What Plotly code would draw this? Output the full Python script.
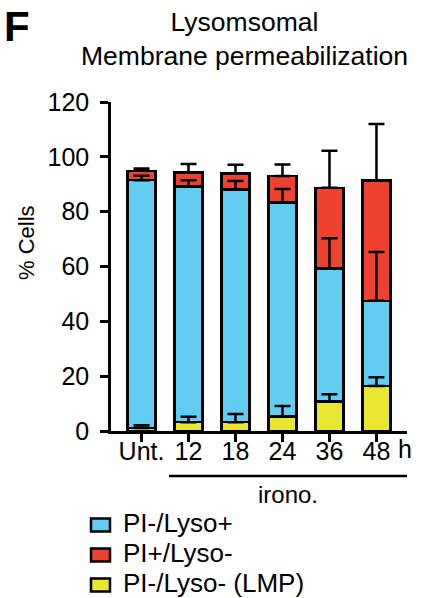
import plotly.graph_objects as go
import numpy as np

# ---- data ----
categories = ["Unt.", "12", "18", "24", "36", "48"]
lmp_vals = [1.1, 3.2, 3.2, 5.2, 10.7, 16.4]          # PI-/Lyso- (LMP)  yellow, bottom
lmp_err = [1.0, 2.0, 3.0, 3.9, 2.7, 3.2]
lyso_pos_vals = [90.4, 85.9, 84.9, 78.1, 48.6, 31.1]  # PI-/Lyso+  blue, middle
lyso_pos_err = [1.6, 2.4, 3.1, 5.0, 11.0, 17.8]
pi_pos_vals = [3.4, 5.2, 5.9, 9.7, 29.4, 43.8]        # PI+/Lyso-  red, top
pi_pos_err = [0.8, 3.1, 3.1, 4.2, 13.5, 20.7]
sig_labels = ["", "n.s.", "n.s.", "n.s.", "**", "**"]
y_ticks = [0, 20, 40, 60, 80, 100, 120]
legend_names = ["PI-/Lyso+", "PI+/Lyso-", "PI-/Lyso- (LMP)"]

# ---- style ----
FONT = "Liberation Sans, Arial, sans-serif"
BLUE = "#62CDF3"
RED = "#EE4130"
YELLOW = "#E9E631"
W, H = 435, 598
L, R, T, B = 111, 407, 102, 431


def px_x(p):
    return (p - L) / (R - L)


def px_y(p):
    return (B - p) / (B - T)


fig = go.Figure()

series = [
    ("PI-/Lyso- (LMP)", lmp_vals, lmp_err, YELLOW),
    ("PI-/Lyso+", lyso_pos_vals, lyso_pos_err, BLUE),
    ("PI+/Lyso-", pi_pos_vals, pi_pos_err, RED),
]
colors = {name: col for name, _, _, col in series}

for name, vals, err, col in series:
    fig.add_trace(go.Bar(
        x=categories, y=vals, name=name, showlegend=False,
        marker=dict(color=col, line=dict(color="black", width=2.5)),
        width=0.6,
    ))

# error bars drawn on top of the stack (upward only)
cum = np.zeros(len(categories))
for name, vals, err, col in series:
    cum = cum + np.array(vals)
    fig.add_trace(go.Scatter(
        x=categories, y=cum.tolist(), mode="markers",
        marker=dict(size=1, color="rgba(0,0,0,0)"),
        error_y=dict(type="data", symmetric=False, array=err,
                     arrayminus=[0] * len(err), color="black",
                     thickness=2.5, width=8),
        showlegend=False, hoverinfo="skip",
    ))

annotations = []
shapes = []
# panel letter
annotations.append(dict(text="<b>F</b>", xref="paper", yref="paper",
                        x=px_x(2), y=px_y(1), xanchor="left", yanchor="top",
                        showarrow=False, font=dict(size=42, family=FONT, color="black")))
# title
annotations.append(dict(text="Lysomsomal<br>Membrane permeabilization",
                        xref="paper", yref="paper", x=px_x(244), y=px_y(39),
                        xanchor="center", yanchor="middle", showarrow=False,
                        font=dict(size=26.5, family=FONT, color="black")))
# significance labels
for c, s in zip(categories, sig_labels):
    if not s:
        continue
    if s == "n.s.":
        annotations.append(dict(text=s, xref="x", yref="paper", x=c, xshift=8,
                                y=px_y(94), yanchor="middle", showarrow=False,
                                font=dict(size=24, family=FONT, color="#222")))
    else:
        annotations.append(dict(text=s, xref="x", yref="paper", x=c, xshift=4,
                                y=px_y(97), yanchor="middle", showarrow=False,
                                font=dict(size=17, family=FONT, color="#222")))
# "h" unit
annotations.append(dict(text="h", xref="paper", yref="paper", x=px_x(396),
                        y=px_y(449), xanchor="left", yanchor="middle", showarrow=False,
                        font=dict(size=25, family=FONT, color="black")))
# treatment label
annotations.append(dict(text="irono.", xref="paper", yref="paper", x=px_x(288),
                        y=px_y(494), xanchor="center", yanchor="middle", showarrow=False,
                        font=dict(size=24, family=FONT, color="black")))
# y title
annotations.append(dict(text="% Cells", xref="paper", yref="paper", x=px_x(26),
                        y=px_y(243), xanchor="center", yanchor="middle", textangle=-90,
                        showarrow=False, font=dict(size=22, family=FONT, color="black")))
# underline for treatment group
shapes.append(dict(type="line", xref="paper", yref="paper",
                   x0=px_x(169), x1=px_x(407), y0=px_y(476), y1=px_y(476),
                   line=dict(color="black", width=2.5)))
# legend (drawn manually to match row spacing)
leg_rows = [525, 555, 585]
for name, yc in zip(legend_names, leg_rows):
    shapes.append(dict(type="rect", xref="paper", yref="paper",
                       x0=px_x(91), x1=px_x(110), y0=px_y(yc - 6.5), y1=px_y(yc + 6.5),
                       fillcolor=colors[name], line=dict(color="black", width=2.5)))
    annotations.append(dict(text=name, xref="paper", yref="paper", x=px_x(121),
                            y=px_y(yc - 2), xanchor="left", yanchor="middle",
                            showarrow=False,
                            font=dict(size=26, family=FONT, color="black")))

fig.update_layout(
    width=W, height=H,
    margin=dict(l=L, r=W - R, t=T, b=H - B, pad=0, autoexpand=False),
    paper_bgcolor="white", plot_bgcolor="white",
    barmode="stack",
    font=dict(family=FONT, size=24, color="black"),
    showlegend=False,
    annotations=annotations,
    shapes=shapes,
    xaxis=dict(range=[-0.65, 5.65], showline=True, linecolor="black", linewidth=2.5,
               ticks="outside", ticklen=8, tickwidth=2.5, tickcolor="black",
               showgrid=False, zeroline=False, automargin=False,
               ticklabelstandoff=-12,
               tickfont=dict(size=25, family=FONT, color="black")),
    yaxis=dict(range=[0, 120], tickvals=y_ticks, showline=True, linecolor="black",
               linewidth=2.5, ticks="outside", ticklen=8, tickwidth=2.5,
               tickcolor="black", showgrid=False, zeroline=False, automargin=False,
               ticklabelstandoff=6,
               tickfont=dict(size=25, family=FONT, color="black")),
)

fig.write_html("out.html", config={"displayModeBar": False},
               post_script="document.body.style.margin='0';document.body.style.padding='0';")
